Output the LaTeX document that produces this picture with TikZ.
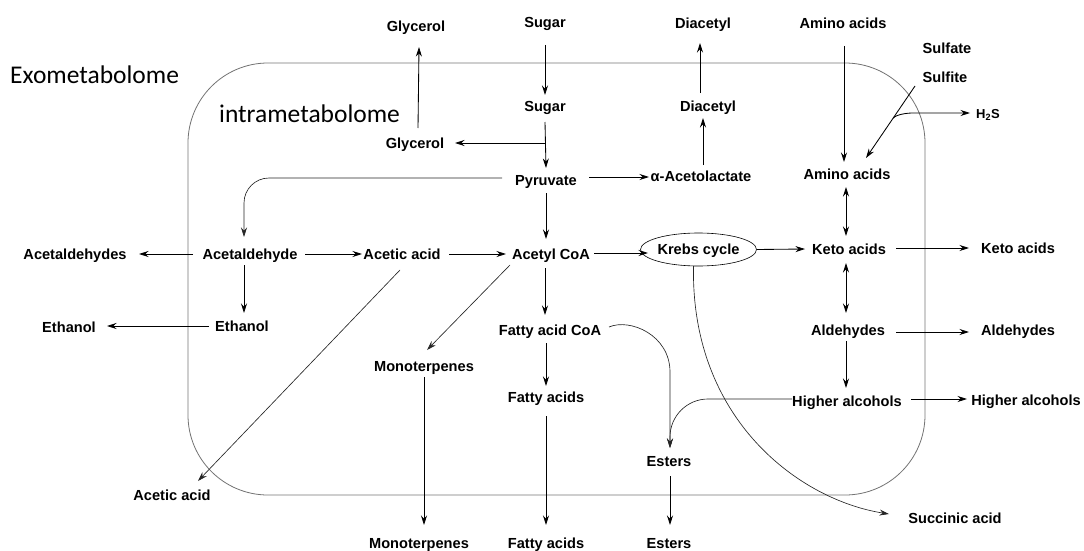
\documentclass[tikz,border=0pt]{standalone}
\usepackage{fontspec}
\setmainfont{Liberation Sans}
\newfontfamily\calib{Carlito}
\usetikzlibrary{arrows.meta,shapes.geometric,calc}
\begin{document}
\begin{tikzpicture}[x=1pt,y=-1pt,
  lbl/.style={font=\bfseries\fontsize{14.6}{17}\selectfont, inner sep=0pt, text height=10.5pt, text depth=0pt},
  big/.style={font=\calib\fontsize{25.5}{30}\selectfont, inner sep=0pt, anchor=base west},
  arr/.style={-{Stealth[length=9.5pt,width=6pt]}, line width=0.85pt},
  darr/.style={{Stealth[length=9.5pt,width=6pt]}-{Stealth[length=9.5pt,width=6pt]}, line width=0.85pt},
  carr/.style={-{Stealth[length=9.5pt,width=6pt]}, line width=0.65pt, black!85},
  cell/.style={draw=black!55, line width=0.8pt, rounded corners=80pt, minimum width=737pt, minimum height=432pt, inner sep=0pt}
]
\useasboundingbox (0,0) rectangle (1084,551);
% membrane
\node[cell] (cellbox) at (556.5,279) {};
\node[big] (exo) at (10,83) {Exometabolome};
\node[big] (intra) at (219,122) {intrametabolome};
% outer labels
\node[lbl] (glycT) at (416,26) {Glycerol};
\node[lbl] (sugarT) at (545,22) {Sugar};
\node[lbl] (diacT) at (703,23) {Diacetyl};
\node[lbl] (aminoT) at (843,23) {Amino acids};
\node[lbl] (sulfate) at (947,48) {Sulfate};
\node[lbl] (sulfite) at (945,77) {Sulfite};
\node[lbl, font=\bfseries\fontsize{13}{15}\selectfont] (h2s) at (988,113) {H\textsubscript{2}S};
\node[lbl] (acetds) at (75,254) {Acetaldehydes};
\node[lbl] (ketoO) at (1018,248) {Keto acids};
\node[lbl] (ethO) at (69,327) {Ethanol};
\node[lbl] (aldO) at (1018,330) {Aldehydes};
\node[lbl] (haO) at (1026,400) {Higher alcohols};
\node[lbl] (aceticO) at (172,495) {Acetic acid};
\node[lbl] (succ) at (955,518) {Succinic acid};
\node[lbl] (monoO) at (419,543) {Monoterpenes};
\node[lbl] (faO) at (546,543) {Fatty acids};
\node[lbl] (estersO) at (669,543) {Esters};
% inner labels
\node[lbl] (sugar) at (545,106) {Sugar};
\node[lbl] (diac) at (708,106) {Diacetyl};
\node[lbl] (glyc) at (415,143) {Glycerol};
\node[lbl] (pyr) at (546,180) {Pyruvate};
\node[lbl] (acetol) at (701,176) {α-Acetolactate};
\node[lbl] (amino) at (847,174) {Amino acids};
\node[lbl] (acetd) at (250,254) {Acetaldehyde};
\node[lbl] (acetic) at (402,254) {Acetic acid};
\node[lbl] (acoa) at (551,254) {Acetyl CoA};
\node[lbl, draw, ellipse, line width=0.6pt, minimum width=101pt, minimum height=33pt] (krebs) at (698.5,249.5) {Krebs cycle};
\node[lbl] (keto) at (849,249) {Keto acids};
\node[lbl] (ethI) at (242,326) {Ethanol};
\node[lbl] (mono) at (424,366) {Monoterpenes};
\node[lbl] (facoa) at (550,330) {Fatty acid CoA};
\node[lbl] (ald) at (848,330) {Aldehydes};
\node[lbl] (fa) at (546,397) {Fatty acids};
\node[lbl] (ha) at (847,401) {Higher alcohols};
\node[lbl] (esters) at (669,461) {Esters};

% connectors
\draw[arr] ([shift={(0,23)}]sugarT.center) -- ([shift={(0,-11)}]sugar.center);
\draw[arr] ([shift={(0,16)}]sugar.center) -- ([shift={(0,-12)}]pyr.center);
\draw[arr] (sugar |- glyc) -- ([shift={(40,0)}]glyc.center);
\draw[arr] ([shift={(3,-15)}]glyc.center) -- ([shift={(3,21)}]glycT.center);
\draw[arr] ([shift={(43,-3)}]pyr.center) -- ([shift={(-52,1)}]acetol.center);
\draw[arr] ([shift={(2,-11)}]acetol.center) -- ([shift={(-5,12)}]diac.center);
\draw[arr] ([shift={(-8,-13)}]diac.center) -- ([shift={(-3,20)}]diacT.center);
\draw[arr] ([shift={(1,23)}]aminoT.center) -- ([shift={(-3,-12)}]amino.center);
\coordinate (sfA) at ([shift={(-30,9)}]sulfite.center);
\coordinate (sfB) at ([shift={(19,-16)}]amino.center);
\draw[arr] (sfA) -- (sfB);
\coordinate (sfBr) at ($(sfA)!0.45!(sfB)$);
\draw[arr] (sfBr) .. controls +(3,-4) and +(-6,0) .. ([shift={(-75,0)}]h2s.center) -- ([shift={(-18,0)}]h2s.center);
\draw[darr] ([shift={(-1,13)}]amino.center) -- ([shift={(-3,-13)}]keto.center);
\draw[carr, rounded corners=25pt] ([shift={(-44,-2)}]pyr.center) -| ([shift={(-6,-17)}]acetd.center);
\draw[arr] ([shift={(0,13)}]pyr.center) -- ([shift={(-5,-15)}]acoa.center);
\draw[arr] ([shift={(-57,0)}]acetd.center) -- ([shift={(64,0)}]acetds.center);
\draw[arr] ([shift={(55,0)}]acetd.center) -- ([shift={(-40,0)}]acetic.center);
\draw[arr] ([shift={(47,0)}]acetic.center) -- ([shift={(-45,0)}]acoa.center);
\draw[carr] ([shift={(-2,16)}]acetic.center) -- ([shift={(26,-14)}]aceticO.center);
\draw[arr] ([shift={(-6,11)}]acetd.center) -- ([shift={(2,-13)}]ethI.center);
\draw[arr] ([shift={(-33,0)}]ethI.center) -- ([shift={(38,-1)}]ethO.center);
\draw[carr] ([shift={(-41,11)}]acoa.center) -- ([shift={(3,-16)}]mono.center);
\draw[arr] ([shift={(43,-1)}]acoa.center) -- ([shift={(-50.5,3.5)}]krebs.center);
\draw[arr] ([shift={(-6,14)}]acoa.center) -- ([shift={(-5,-15)}]facoa.center);
\draw[arr] ([shift={(-4,13)}]facoa.center) -- ([shift={(0,-11)}]fa.center);
\draw[arr] ([shift={(0,19)}]fa.center) -- ([shift={(0,-18)}]faO.center);
\draw[arr] ([shift={(0,11)}]mono.center) -- ([shift={(5,-18)}]monoO.center);
\draw[carr] ([shift={(59,-3)}]facoa.center) .. controls +(21,-9) and +(0,-37) .. ([shift={(1,-89)}]esters.center) -- ([shift={(1,-13)}]esters.center);
\draw[carr, rounded corners=38pt] ([shift={(-55,-2)}]ha.center) -| ([shift={(1,-13)}]esters.center);
\draw[arr] ([shift={(1,15)}]esters.center) -- ([shift={(1,-18)}]estersO.center);
\draw[arr] (krebs.east) -- ([shift={(-44,0)}]keto.center);
\draw[carr] ([shift={(-5,16.5)}]krebs.center) .. controls +(-3,154) and +(-89,-14) .. ([shift={(-66,-4)}]succ.center);
\draw[arr] ([shift={(47,-1)}]keto.center) -- ([shift={(-49,0)}]ketoO.center);
\draw[darr] ([shift={(-3,14)}]keto.center) -- ([shift={(-2,-17)}]ald.center);
\draw[arr] ([shift={(48,2)}]ald.center) -- ([shift={(-49,2)}]aldO.center);
\draw[arr] ([shift={(-2,11)}]ald.center) -- ([shift={(-1,-13)}]ha.center);
\draw[arr] ([shift={(64,-2)}]ha.center) -- ([shift={(-59,-1)}]haO.center);
\end{tikzpicture}
\end{document}
